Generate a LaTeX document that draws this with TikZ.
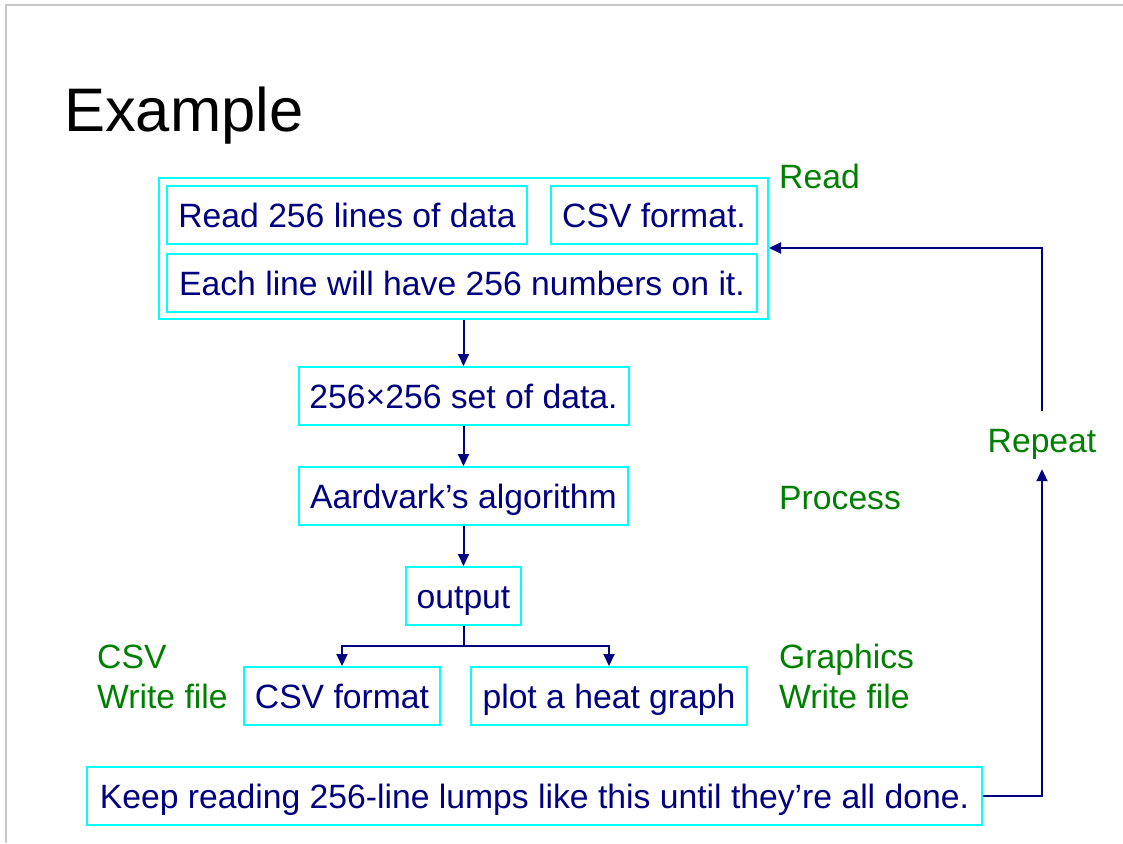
\documentclass[tikz,border=0pt]{standalone}
\usepackage{fontspec}
\setmainfont{Liberation Sans}
\usetikzlibrary{arrows.meta}
\definecolor{navy}{RGB}{0,0,128}
\definecolor{dgreen}{RGB}{0,128,0}
\definecolor{boxcyan}{RGB}{0,255,255}
\definecolor{slidegray}{RGB}{200,200,200}
\tikzset{
  box/.style={draw=boxcyan, line width=2pt, inner sep=0pt, text=navy, font=\fontsize{33.7}{40}\selectfont, text height=24pt, text depth=0pt, anchor=center},
  lbl/.style={inner sep=0pt, text=dgreen, font=\fontsize{33.7}{40}\selectfont, text height=24pt, text depth=0pt},
  conn/.style={draw=navy, line width=2pt},
  arr/.style={conn, -{Triangle[length=12pt,width=11pt]}},
}
\begin{document}
\begin{tikzpicture}[x=1pt,y=-1pt]
\useasboundingbox (0,0) rectangle (1123,843);
\fill[white] (0,0) rectangle (1123,843);
\draw[slidegray, line width=1.5pt] (6,843) -- (6,5) -- (1123,5);
\node[anchor=base west, inner sep=0pt, font=\fontsize{61.5}{70}\selectfont] (title) at (64,131) {Example};
% outer read box
\node[box, minimum width=609pt, minimum height=141pt] (readbox) at (463.5,248.5) {};
\node[box, minimum width=360pt, minimum height=58pt] (r1) at (347,215) {Read 256 lines of data};
\node[box, minimum width=206pt, minimum height=58pt] (r2) at (654,215) {CSV format.};
\node[box, minimum width=590pt, minimum height=58pt] (r3) at (462,283) {Each line will have 256 numbers on it.};
\node[box, minimum width=330pt, minimum height=58pt] (set) at (463.5,396) {256×256 set of data.};
\node[box, minimum width=329pt, minimum height=58pt] (alg) at (463.5,496) {Aardvark’s algorithm};
\node[box, minimum width=115pt, minimum height=58pt] (out) at (463.5,596) {output};
\node[box, minimum width=196pt, minimum height=58pt] (csv) at (342,696) {CSV format};
\node[box, minimum width=276pt, minimum height=58pt] (heat) at (609,696) {plot a heat graph};
\node[box, minimum width=895pt, minimum height=58pt] (keep) at (534.5,796) {Keep reading 256-line lumps like this until they’re all done.};
% labels
\node[lbl, anchor=west] (lread) at (779,176) {Read};
\node[lbl, anchor=west] (lproc) at (779,497) {Process};
\node[lbl, anchor=west] (lg1) at (779,656) {Graphics};
\node[lbl, anchor=west] (lg2) at (779,696) {Write file};
\node[lbl, anchor=west] (lc1) at (97,656) {CSV};
\node[lbl, anchor=west] (lc2) at (97,696) {Write file};
\node[lbl, anchor=center, minimum height=58pt] (rep) at (1042,440) {Repeat};
% connectors
\draw[arr] (readbox.south) -- (set.north);
\draw[arr] (set.south) -- (alg.north);
\draw[arr] (alg.south) -- (out.north);
\coordinate (split) at (463.5,646);
\draw[conn] (out.south) -- (split);
\draw[arr] (split) -| (csv.north);
\draw[arr] (split) -| (heat.north);
\coordinate (loopA) at (1042,796);
\coordinate (loopB) at (1042,248);
\draw[arr] (keep.east) -- (loopA) -- (rep.south);
\draw[arr] (rep.north) -- (loopB) -- (readbox.east |- loopB);
\end{tikzpicture}
\end{document}
